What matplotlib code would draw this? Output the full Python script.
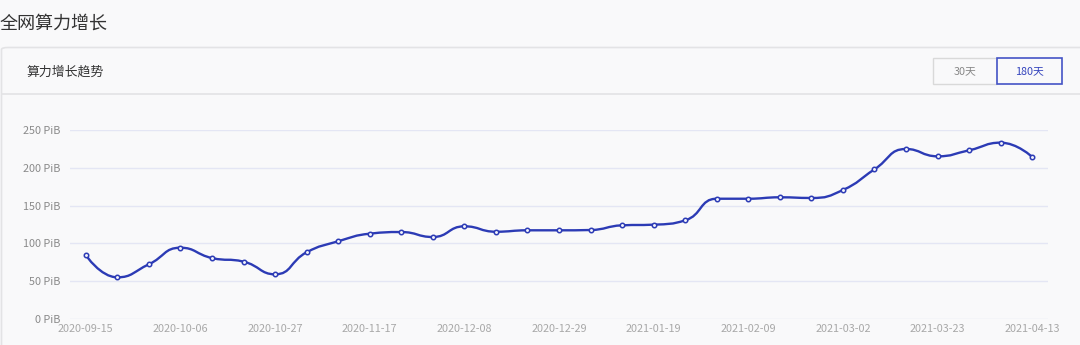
"""
plot.py
全网算力增长 - weekly network power line chart
"""

import numpy as np
import matplotlib
matplotlib.use("Agg")
import matplotlib.pyplot as plt
from matplotlib.path import Path
from matplotlib.patches import PathPatch, FancyBboxPatch, Rectangle
from matplotlib.lines import Line2D

plt.rcParams["font.family"] = ["Noto Sans CJK SC", "DejaVu Sans"]

# -------------------------------------------------
# Data
# -------------------------------------------------

dates = [
    "2020-09-15", "2020-09-22", "2020-09-29", "2020-10-06", "2020-10-13",
    "2020-10-20", "2020-10-27", "2020-11-03", "2020-11-10", "2020-11-17",
    "2020-11-24", "2020-12-01", "2020-12-08", "2020-12-15", "2020-12-22",
    "2020-12-29", "2021-01-05", "2021-01-12", "2021-01-19", "2021-01-26",
    "2021-02-02", "2021-02-09", "2021-02-16", "2021-02-23", "2021-03-02",
    "2021-03-09", "2021-03-16", "2021-03-23", "2021-03-30", "2021-04-06",
    "2021-04-13",
]

power_pib = [
    84.5, 54.9, 72.2, 94.2, 80.5, 75.7, 58.9, 88.1, 102.7, 112.8,
    115.0, 108.4, 122.6, 115.4, 117.3, 117.3, 117.7, 123.9, 124.8, 130.5,
    159.2, 159.2, 161.1, 160.2, 170.8, 198.2, 225.2, 215.5, 223.5, 233.6,
    214.6,
]

y_ticks = [0, 50, 100, 150, 200, 250]

# -------------------------------------------------
# Style
# -------------------------------------------------

W, H = 1080, 345
BG = "#f9f9fa"
LINE_COLOR = "#2c3bb5"
GRID_COLOR = "#e4e6f4"
BORDER = "#e3e3e5"


def fx(px):
    return px / W


def fy(py):
    return 1 - py / H


# -------------------------------------------------
# Figure and card
# -------------------------------------------------

fig = plt.figure(figsize=(W / 100, H / 100), dpi=100, facecolor=BG)

card = FancyBboxPatch(
    (fx(1.5), fy(360)), fx(1100), fy(47.5) - fy(360),
    boxstyle="round,pad=0,rounding_size=0.006",
    transform=fig.transFigure, facecolor=BG, edgecolor=BORDER, linewidth=1.2,
    zorder=-5
)
fig.add_artist(card)

fig.add_artist(Line2D([fx(1.5), 1], [fy(94), fy(94)],
                      transform=fig.transFigure, color=BORDER, linewidth=1.2,
                      zorder=-4))

fig.text(fx(0), fy(24), "全网算力增长", fontsize=13, color="#333333",
         ha="left", va="center")
fig.text(fx(27), fy(72), "算力增长趋势", fontsize=9.3, color="#333333",
         ha="left", va="center")

# buttons
fig.add_artist(Rectangle((fx(933), fy(84)), fx(64), fy(58) - fy(84),
                         transform=fig.transFigure, facecolor=BG,
                         edgecolor="#d9d9d9", linewidth=1, zorder=-3))
fig.add_artist(Rectangle((fx(997), fy(84)), fx(65), fy(58) - fy(84),
                         transform=fig.transFigure, facecolor=BG,
                         edgecolor="#4454c6", linewidth=1.2, zorder=-3))
fig.text(fx(965), fy(71), "30天", fontsize=7.8, color="#888888",
         ha="center", va="center")
fig.text(fx(1029.5), fy(71), "180天", fontsize=7.8, color="#3545bd",
         ha="center", va="center")

# -------------------------------------------------
# Chart
# -------------------------------------------------

ax = fig.add_axes([fx(70), fy(318.7), fx(1048) - fx(70), fy(130.3) - fy(318.7)])
ax.set_facecolor("none")
ax.set_zorder(2)

n = len(power_pib)
xs = np.arange(n, dtype=float)
ys = np.array(power_pib, dtype=float)

ax.set_xlim(-0.5, n - 0.5)
ax.set_ylim(0, 250)

# smooth bezier like echarts (smooth = 0.5, with smooth constraint)
sx = 31.55
sy = 188.4 / 250
smooth = 0.5
cps = []
for i in range(n):
    x, y = xs[i], ys[i]
    if i == 0 or i == n - 1:
        cps.append(((x, y), (x, y)))
        continue
    px_, py_ = xs[i - 1], ys[i - 1]
    nx_, ny_ = xs[i + 1], ys[i + 1]
    vx, vy = nx_ - px_, ny_ - py_
    d0 = np.hypot((x - px_) * sx, (y - py_) * sy)
    d1 = np.hypot((nx_ - x) * sx, (ny_ - y) * sy)
    r = d1 / (d0 + d1)
    ncx = x + vx * smooth * r
    ncy = y + vy * smooth * r
    ncx = min(max(ncx, min(nx_, x)), max(nx_, x))
    ncy = min(max(ncy, min(ny_, y)), max(ny_, y))
    vx, vy = ncx - x, ncy - y
    pcx = x - vx * d0 / d1
    pcy = y - vy * d0 / d1
    pcx = min(max(pcx, min(px_, x)), max(px_, x))
    pcy = min(max(pcy, min(py_, y)), max(py_, y))
    vx, vy = x - pcx, y - pcy
    ncx = x + vx * d1 / d0
    ncy = y + vy * d1 / d0
    cps.append(((pcx, pcy), (ncx, ncy)))

verts = [(xs[0], ys[0])]
codes = [Path.MOVETO]
for i in range(1, n):
    verts += [cps[i - 1][1], cps[i][0], (xs[i], ys[i])]
    codes += [Path.CURVE4] * 3

ax.add_patch(PathPatch(Path(verts, codes), facecolor="none",
                       edgecolor=LINE_COLOR, linewidth=1.7, zorder=3))
ax.plot(xs, ys, linestyle="none", marker="o", markersize=3.2,
        markerfacecolor="#f4f5fb", markeredgecolor=LINE_COLOR,
        markeredgewidth=1.1, zorder=4)

ax.set_yticks(y_ticks)
ax.set_yticklabels([f"{v} PiB" for v in y_ticks])
ax.set_xticks(xs[::3])
ax.set_xticklabels(dates[::3])

ax.grid(axis="y", color=GRID_COLOR, linewidth=1)
ax.set_axisbelow(True)
for s in ax.spines.values():
    s.set_visible(False)

ax.tick_params(axis="y", length=0, pad=7, labelsize=7.8, labelcolor="#8a8a8a")
ax.tick_params(axis="x", length=0, pad=4, labelsize=7.8, labelcolor="#a8a8a8")

fig.savefig("out.png", dpi=100, facecolor=BG)
